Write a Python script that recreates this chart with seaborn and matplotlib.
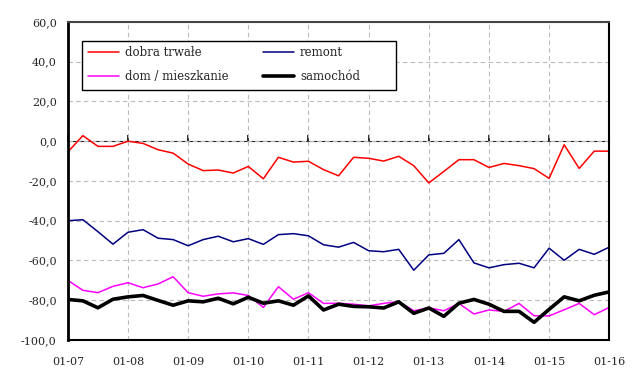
import matplotlib
matplotlib.use("Agg")
import matplotlib.pyplot as plt
import seaborn as sns
import pandas as pd
import numpy as np
from matplotlib.ticker import FuncFormatter
from matplotlib.patches import Rectangle

# quarterly values, 01-07 .. 01-16
dobra_trwale = [-5.4, 2.8, -2.6, -2.6, 0.0, -1.1, -4.3, -6.0, -11.5, -14.8, -14.5, -16.0, -12.7,
                -18.9, -8.1, -10.5, -10.1, -14.3, -17.4, -8.1, -8.6, -10.0, -7.6, -12.3, -21.0,
                -15.2, -9.3, -9.3, -13.2, -11.2, -12.3, -13.8, -18.7, -1.8, -13.7, -5.0, -5.0]
remont = [-40.0, -39.5, -45.5, -51.8, -45.8, -44.5, -48.8, -49.5, -52.6, -49.5, -47.8, -50.6, -49.0,
          -51.9, -47.0, -46.5, -47.6, -52.1, -53.3, -50.9, -55.1, -55.6, -54.4, -64.9, -57.2,
          -56.4, -49.5, -61.2, -63.7, -62.1, -61.4, -63.7, -53.8, -59.9, -54.4, -56.9, -53.3]
dom_mieszkanie = [-70.0, -75.0, -76.2, -73.0, -71.2, -73.7, -71.8, -68.2, -76.2, -78.0, -76.8, -76.3, -77.6,
                  -83.6, -73.2, -79.5, -76.2, -81.6, -81.5, -82.0, -82.8, -81.6, -80.6, -85.3, -83.8,
                  -85.3, -81.6, -86.9, -84.9, -85.6, -81.6, -87.8, -87.9, -84.8, -81.6, -87.3, -83.6]
samochod = [-79.6, -80.3, -83.8, -79.5, -78.3, -77.6, -80.1, -82.5, -80.3, -80.8, -79.0, -81.8, -78.5,
            -81.5, -80.3, -82.5, -77.8, -84.9, -82.0, -83.1, -83.3, -83.9, -80.8, -86.6, -83.9,
            -88.1, -81.5, -79.6, -82.0, -85.6, -85.6, -91.1, -84.6, -78.3, -80.3, -77.5, -75.8]
year_labels = ['01-07', '01-08', '01-09', '01-10', '01-11', '01-12', '01-13', '01-14', '01-15', '01-16']

idx = np.arange(len(dobra_trwale))
df = pd.DataFrame({'q': idx, 'dobra trwałe': dobra_trwale, 'remont': remont,
                   'dom / mieszkanie': dom_mieszkanie, 'samochód': samochod})

sns.set_style('white')
plt.rcParams['font.family'] = ['DejaVu Serif']

fig = plt.figure(figsize=(6.4, 3.69), dpi=100)
ax = fig.add_axes([0.106, 0.0786, 0.846, 0.862])

styles = {'dobra trwałe': ('#FF0000', 1.1),
          'dom / mieszkanie': ('#FF00FF', 1.1),
          'remont': ('#000080', 1.1),
          'samochód': ('#000000', 2.6)}
for name, (col, lw) in styles.items():
    sns.lineplot(data=df, x='q', y=name, ax=ax, color=col, linewidth=lw, label=name)

ax.set_xlim(0, 36)
ax.set_ylim(-100, 60)
ax.set_yticks(np.arange(-100, 61, 20))
ax.yaxis.set_major_formatter(FuncFormatter(lambda v, p: f'{v:.1f}'.replace('.', ',')))
ax.set_xticks(np.arange(0, 37, 4))
ax.set_xticklabels(year_labels)
ax.set_xlabel('')
ax.set_ylabel('')
ax.grid(True, color='#BBBBBB', linestyle=(0, (4, 3)), linewidth=0.8)
ax.tick_params(axis='y', direction='out', length=5, width=1, color='black', labelsize=8, pad=3)
ax.tick_params(axis='x', length=0, labelsize=8, pad=12)

for s in ['left', 'bottom', 'right']:
    ax.spines[s].set_color('black')
    ax.spines[s].set_linewidth(1.5)
ax.spines['left'].set_linewidth(2)
ax.spines['top'].set_color('#444444')
ax.spines['top'].set_linewidth(1.5)

# zero line with tick marks like the category axis
sec = ax.secondary_xaxis(0.625)
sec.set_xticks(np.arange(0, 37, 4))
sec.set_xticklabels([])
sec.tick_params(direction='out', length=4, width=1.2, color='black')
sec.spines['bottom'].set_linewidth(1.5)
sec.spines['bottom'].set_color('black')

# legend box
ax.add_patch(Rectangle((0.0253, 0.786), 0.581, 0.154, transform=ax.transAxes,
                       facecolor='white', edgecolor='black', linewidth=1.0, zorder=4.5))
leg = ax.legend(loc='upper left', bbox_to_anchor=(0.029, 0.94), borderaxespad=0, ncol=2,
                frameon=False, fontsize=8.5, handlelength=2.6, handletextpad=0.5,
                columnspacing=2.95, borderpad=0.4, labelspacing=0.95)
leg.set_zorder(5)

fig.savefig('out.png', dpi=100)
